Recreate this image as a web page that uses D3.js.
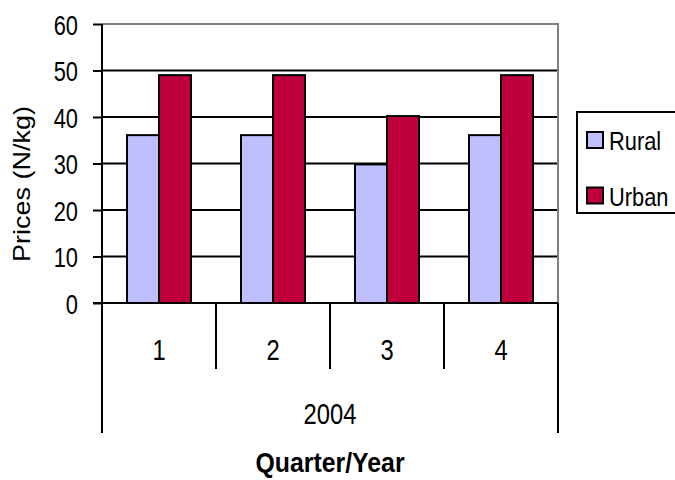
<!DOCTYPE html>
<html>
<head>
<meta charset="utf-8">
<script src="https://cdn.jsdelivr.net/npm/d3@7"></script>
<style>
  html, body { margin: 0; padding: 0; background: #fff; }
  svg text { font-family: "Liberation Sans", Arial, sans-serif; fill: #000; }
</style>
</head>
<body>
<svg id="chart" width="675" height="480"></svg>
<script>
// Quarterly average prices, rural vs urban markets
const quarters = ["1", "2", "3", "4"];
const year = "2004";
const seriesNames = ["Rural", "Urban"];
const rural = [36.1, 36.1, 29.8, 36.1];
const urban = [49.0, 49.0, 40.2, 49.0];
const yTicks = [0, 10, 20, 30, 40, 50, 60];
const colors = ["#BFBFFF", "#C0003C"];

const svg = d3.select("#chart");
const plot = { left: 102, right: 558, top: 24, bottom: 303 };

// narrow lettering: a text at baseline point (x, y), squeezed horizontally by sx
function label(parent, x, y, txt, o = {}) {
  const sx = o.sx || 0.82;
  const t = parent.append("text")
    .attr("transform", `translate(${x},${y}) scale(${sx},1)${o.rotate ? ` rotate(${o.rotate})` : ""}`)
    .attr("text-anchor", o.anchor || "middle")
    .attr("font-size", o.size || 28)
    .text(txt);
  if (o.bold) t.attr("font-weight", "bold");
  return t;
}

const x = d3.scaleBand().domain(quarters).range([plot.left, plot.right]).paddingInner(0).paddingOuter(0);
const groupWidth = 64;
const xs = d3.scaleBand().domain(seriesNames).range([0, groupWidth]).padding(0);
const y = d3.scaleLinear().domain([0, 60]).range([plot.bottom, plot.top]);

// horizontal gridlines
svg.append("g").selectAll("line").data(yTicks.filter(t => t > 0 && t < 60)).join("line")
  .attr("x1", plot.left).attr("x2", plot.right)
  .attr("y1", d => y(d)).attr("y2", d => y(d))
  .attr("stroke", "#000").attr("stroke-width", 2);

// plot area border (top and right)
svg.append("path")
  .attr("d", `M${plot.left},${y(60)}H${plot.right}V${plot.bottom}`)
  .attr("fill", "none").attr("stroke", "#808080").attr("stroke-width", 2);

// bars
const data = quarters.map((q, i) => ({ q, vals: [rural[i], urban[i]] }));
const groups = svg.append("g").selectAll("g").data(data).join("g")
  .attr("transform", d => `translate(${x(d.q) + (x.bandwidth() - groupWidth) / 2},0)`);
groups.selectAll("rect").data(d => d.vals.map((v, j) => ({ v, s: seriesNames[j], j }))).join("rect")
  .attr("x", d => xs(d.s)).attr("width", xs.bandwidth())
  .attr("y", d => y(d.v)).attr("height", d => y(0) - y(d.v))
  .attr("fill", d => colors[d.j]).attr("stroke", "#000").attr("stroke-width", 2);

// y axis: line and ticks from d3.axisLeft, labels drawn in the narrow style
const yAxis = svg.append("g").attr("transform", `translate(${plot.left},0)`)
  .call(d3.axisLeft(y).tickValues(yTicks).tickSize(9).tickFormat(""));
yAxis.select(".domain").attr("stroke", "#000").attr("stroke-width", 2).attr("d", `M0,${y(60)}V${plot.bottom}`);
yAxis.selectAll(".tick line").attr("stroke", "#000").attr("stroke-width", 2);
const yLabels = svg.append("g");
yTicks.forEach(t => label(yLabels, 78, y(t) + 10.5, d3.format("d")(t), { anchor: "end", sx: 0.78 }));

// x axis baseline
svg.append("line").attr("x1", plot.left - 9).attr("x2", plot.right)
  .attr("y1", plot.bottom).attr("y2", plot.bottom).attr("stroke", "#000").attr("stroke-width", 2);

// category dividers: inner ones short, outer ones extend through the year row
const bounds = quarters.map(q => x(q)).concat([plot.right]);
svg.append("g").selectAll("line").data(bounds).join("line")
  .attr("x1", d => d).attr("x2", d => d)
  .attr("y1", plot.bottom)
  .attr("y2", (d, i) => (i === 0 || i === bounds.length - 1) ? 433 : 369)
  .attr("stroke", "#000").attr("stroke-width", 2);

// quarter labels
const qLabels = svg.append("g");
quarters.forEach(q => label(qLabels, x(q) + x.bandwidth() / 2, 360, q, { size: 29 }));

// year label
label(svg, (plot.left + plot.right) / 2, 424, year, { size: 29 });

// axis titles
label(svg, (plot.left + plot.right) / 2, 472, "Quarter/Year", { bold: true, size: 27, sx: 0.92 });
label(svg, 30, 184, "Prices (N/kg)", { rotate: -90, size: 27, sx: 0.9 });

// legend
const legend = svg.append("g");
legend.append("rect").attr("x", 577).attr("y", 112).attr("width", 110).attr("height", 101)
  .attr("fill", "#fff").attr("stroke", "#000").attr("stroke-width", 2);
const items = legend.selectAll("g").data(seriesNames).join("g")
  .attr("transform", (d, i) => `translate(587,${140 + i * 55.5})`);
items.append("rect").attr("x", 0).attr("y", -8).attr("width", 16).attr("height", 16)
  .attr("fill", (d, i) => colors[i]).attr("stroke", "#000").attr("stroke-width", 2);
items.each(function (d) { label(d3.select(this), 22, 10, d, { anchor: "start", size: 26, sx: 0.84 }); });
</script>
</body>
</html>
